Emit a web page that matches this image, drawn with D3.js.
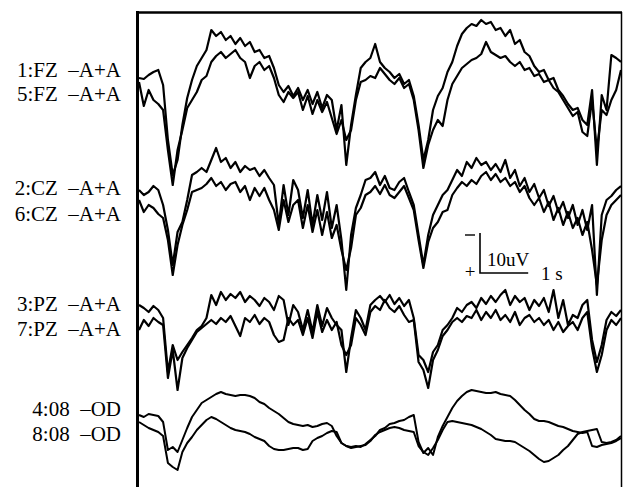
<!DOCTYPE html>
<html><head><meta charset="utf-8">
<script src="https://cdn.jsdelivr.net/npm/d3@7"></script>
<style>html,body{margin:0;padding:0;background:#fff;} svg{display:block;}</style>
</head><body>
<svg id="chart" width="624" height="487"></svg>
<script>
// ---- data (µV, negative = up, EEG convention), sampled every 0.1 s over 10 s ----
const labelsA = ["1:FZ  –A+A", "2:CZ  –A+A", "3:PZ  –A+A", "4:08  –OD"];
const labelsB = ["5:FZ  –A+A", "6:CZ  –A+A", "7:PZ  –A+A", "8:08  –OD"];

const fzA = [-0.5,-0.25,-1.25,-2,-2.5,1.25,15,23.75,20,11.25,
 4.5,0,-3.5,-5.5,-7.5,-12.5,-11,-12,-10,-11,
 -9,-10.5,-8.5,-9.5,-7,-7.5,-5.5,-6,-3,1.25,
 3,1.5,4,2,5,2.5,6,3,7,3.75,
 5,12.5,6.25,21.25,11.25,3.75,-3,-4.5,-5.5,-9,
 -4.5,-3,-2,-0.5,-1.5,1,0,4,11.25,20,
 15,7.5,4,2,-2,-4.5,-8.5,-11.5,-13,-14,
 -13.5,-15,-14,-14.5,-12.5,-13,-11,-12.5,-9,-10,
 -7,-6,-3.5,-2,-2.5,0,-0.5,2.5,4,6,
 7.5,7,10,11.25,2.5,21.25,3.75,7.5,-6.25,-5.5,
 -4.5];
const fzB = [0.5,6.5,2.5,5,6,7.5,17.5,26.25,17.5,12.5,
 7,5,3,0,-1,-4.5,-6,-7,-5.5,-6.5,
 -7.5,-5.5,-4.5,-0.5,-3.5,-4.5,-2.5,-3.5,-0.5,3.75,
 5.5,3,4.5,3,7.5,4,8.5,5,8,5.5,
 9.5,13.5,10,15,12.5,5,0.5,0,-1,-0.5,
 -3,-1.5,0,1,-0.5,2,1,5,12.5,22,
 16.25,12.5,10,11.5,5,1,-1,-3,-4,-5,
 -5.5,-6.5,-9.5,-7,-6.25,-5.5,-6,-4.5,-3.5,-4.5,
 -2.5,-3,-1,-1.5,0.5,0,2,3,5,7,
 9,8,13,14,5,17.5,7.5,8.75,5,2.5,
 -2.5];
const czA = [-2.5,-1.25,-2,-3.5,-2.5,1.25,7.5,16.25,8,5.5,
 0,-6.25,-7,-8,-7,-10,-13,-9.5,-10.5,-8,
 -9.5,-7,-8.5,-7.5,-8,-6,-7.5,-5.5,-3.75,6.25,
 -3.75,3.75,-5,-2.5,4.5,-2.5,6.25,-1.25,5,-2,
 7,1.25,10,22.5,8.75,2,-1.25,-5,-5.5,-7,
 -3.75,-6,-3,-2.5,-4.5,-5.5,-2,1.25,8.75,16.25,
 8.75,3.75,1.25,-1.25,-2.5,-5,-7.5,-6,-9.5,-8,
 -10.5,-8.75,-9.5,-7.5,-9,-7,-10,-5.5,-7.5,-3.5,
 -5.5,-2,-4,-0.5,-2.5,1.5,-1,3,0.5,4.5,
 1.25,6.25,2.5,7.5,1.25,23.75,3.75,0,-1,-2.5,
 -3.5];
const czB = [0,3,1.25,2,3.5,4.5,10,18.75,11.25,6.25,
 2.5,-2,-2.5,-3,-4,-5.5,-3.5,-4.5,-2.5,-4,
 -4.5,-2,-3.5,0,-3,-1,-3,0,2.5,7.5,
 0,5.5,1.25,0,7,1.25,8,2.5,8.75,3,
 9.5,6.25,12.5,17.5,12,3.75,2,-1.25,-2,-3.5,
 -1.5,-3.75,-1.25,-0.5,-2,-3.5,-0.5,2.5,10,17,
 10.5,7,5.5,3,2.5,-1.25,-3,-4.5,-3.5,-5,
 -4,-6,-7,-5,-6.5,-4.5,-5.5,-3.5,-4.5,-2,
 -3.5,-0.5,1.25,-0.5,3,0.5,5,2,6.25,3,
 7,4.5,8.75,5.5,12.5,21.25,10,3.75,1.25,0,
 -1.25];
const pzA = [-2.5,-1.75,-0.75,-2.25,-1.25,0.75,14.25,7.5,11.25,9.25,
 7.5,5.75,3.75,2.75,0.75,-5,-2.5,-5.75,-3.75,-5.25,
 -4.25,-5.75,-3.25,-4.75,-3.75,-2.25,-4.25,-3.25,-1.25,-4.75,
 -3.75,2.5,-2.5,-0.75,3.75,-1.25,4.25,-2.5,2.75,-1.75,
 0.75,2.5,3.75,14.25,5.75,-1.25,0.75,3.75,-2.5,-3.75,
 -4.75,-3.25,-5,-2.75,-4.25,-2.25,-3.75,0.75,10,11.25,
 14.25,9.25,7.5,3.75,2.5,0.75,-1.75,-0.75,-2.5,-3.25,
 -1.75,-4.25,-2.75,-4.75,-3.25,-5,-6.25,-2.5,-4.75,-3.25,
 -4.25,-1.25,-3.75,-2.25,-4.25,-0.75,-6.25,0.75,-3.75,2.5,
 0,0.75,-2.5,-3.75,6.25,11.75,7.5,1.25,-0.75,0.25,
 -1.25];
const pzB = [3.75,1.25,2.75,0.75,1.75,2.5,15.75,8.75,18.75,10.75,
 8.25,6.25,4.25,3.25,2.25,1.25,2.25,0.75,1.75,0.25,
 2.75,5.25,0.75,1.75,0,2.25,0.75,1.75,5,6.75,
 6.25,0.75,2.5,1.25,5,0.75,5.75,-0.75,4.25,1.25,
 3.75,1.75,7.5,10,7.5,0.75,2.5,5,-0.75,-2.25,
 -1.25,-3.75,-1.75,-0.75,-2.25,0,1.75,1.25,11.75,13.75,
 18.25,11.25,8.75,5.25,3.75,1.75,0.75,1.75,0.25,0.75,
 -1.25,1.25,-0.75,0.75,-1.25,1.25,0,1.75,-0.75,2.5,
 0.75,0,1.75,0.75,2.5,1.25,3.75,1.75,4.25,2.75,
 1.75,3.75,0.75,-0.75,8.25,14.25,10,3.75,1.25,2.5,
 0.75];
const eogA = [-3.75,-3.25,-4,-3.75,-3.5,-2,5,4.25,5.5,2.5,
 -0.5,-3.25,-5,-6.75,-7.5,-8.25,-9,-9.5,-9,-8.75,
 -8.5,-8.75,-8.75,-8.5,-8,-7,-6.5,-5.5,-4.75,-4,
 -3,-2,-1.5,-1.25,-1,-1.25,-0.75,-1,-1.5,-1.75,
 -1,1.5,3.25,4,4.25,4,4.25,3.5,2.5,1.5,
 0,-0.5,-1.5,-1.75,-2.25,-2.5,-3.25,-3.75,3,5.75,
 4.5,6.25,1.75,-1,-3.25,-5.5,-7.25,-8.5,-9.5,-10,
 -9.75,-9.5,-9.25,-9.25,-9.5,-9,-8.75,-8.5,-7.5,-6.25,
 -5,-4,-2.75,-2.25,-2.25,-2,-1.5,-1,-0.75,-0.25,
 0.25,0.5,0.75,0.5,4,4.25,3.75,3.5,3.25,2.75,
 2];
const eogB = [-2,-1.25,-0.5,0,0.5,1.5,8.25,9.25,10,5.5,
 3.25,1.75,0,-1.25,-2.5,-3.25,-2.75,-2,-1.25,-0.5,
 0,0.25,0.5,1,1.75,2.25,2.75,4,4.75,5,
 5,4.75,4.5,4.5,5,4.75,2.75,2,1.5,0.75,
 0.25,0.5,3.25,4,4.5,4.25,4,3.75,2.75,1.25,
 0.5,0,-0.5,-0.75,-0.5,0,0.25,0.5,4,5.5,
 6.25,4.5,2.5,0,-2,-2.25,-2,-1.75,-1.5,-1.25,
 -0.75,-0.25,0.5,1.25,2.25,2.5,2.75,2.75,3,3.75,
 4.5,5.25,6.25,7.25,8,7.75,7,6.25,5,4,
 2.5,1,0.5,0.25,0,-0.25,3,3.25,3,2.5,
 1.5];

const durationS = 10;
const scaleAmpUV = 10, scaleTimeS = 1;
const scaleLabels = ["10uV", "1 s"];

// ---- layout ----
const svg = d3.select("#chart");
const x = d3.scaleLinear().domain([0, durationS]).range([139, 621]);
const baselines = [80, 200, 315, 430];
const pxPerUV = 4;
const yScales = baselines.map(b => d3.scaleLinear().domain([-10, 10]).range([b - 10 * pxPerUV, b + 10 * pxPerUV]));

const seriesA = [fzA, czA, pzA, eogA];
const seriesB = [fzB, czB, pzB, eogB];
const strokeW = [2.2, 2.2, 2.2, 2.0];

svg.append("defs").append("clipPath").attr("id", "clip")
  .append("rect").attr("x", 138).attr("y", 13).attr("width", 483).attr("height", 474);

const g = svg.append("g").attr("clip-path", "url(#clip)");
[seriesA, seriesB].forEach(set => {
  set.forEach((vals, ci) => {
    const n = vals.length;
    const line = d3.line()
      .x((d, i) => x(i * durationS / (n - 1)))
      .y(d => yScales[ci](d));
    g.append("path").datum(vals)
      .attr("d", line)
      .attr("fill", "none")
      .attr("stroke", "#000")
      .attr("stroke-width", strokeW[ci])
      .attr("stroke-linejoin", "round");
  });
});

// frame
svg.append("line").attr("x1", 137.5).attr("x2", 137.5).attr("y1", 11).attr("y2", 487)
  .attr("stroke", "#000").attr("stroke-width", 3);
svg.append("line").attr("x1", 136).attr("x2", 622).attr("y1", 12.5).attr("y2", 12.5)
  .attr("stroke", "#000").attr("stroke-width", 2.5);
svg.append("line").attr("x1", 621.5).attr("x2", 621.5).attr("y1", 12).attr("y2", 487)
  .attr("stroke", "#000").attr("stroke-width", 1.5);

// channel labels
const font = "'Liberation Serif','Times New Roman',serif";
const labelOffsetsA = [-3, -5, -4, -14];
const labelOffsetsB = [21, 21, 21, 11];
labelsA.forEach((t, i) => {
  svg.append("text").attr("x", 121).attr("y", baselines[i] + labelOffsetsA[i])
    .attr("text-anchor", "end").style("white-space", "pre")
    .attr("font-family", font).attr("font-size", 21).text(t);
  svg.append("text").attr("x", 121).attr("y", baselines[i] + labelOffsetsB[i])
    .attr("text-anchor", "end").style("white-space", "pre")
    .attr("font-family", font).attr("font-size", 21).text(labelsB[i]);
});

// scale bar
const sbX = 480, sbY = 273;
const ampLen = scaleAmpUV * pxPerUV;
const timeLen = x(scaleTimeS) - x(0);
svg.append("path")
  .attr("d", `M${sbX},${sbY - ampLen}V${sbY}H${sbX + timeLen}`)
  .attr("fill", "none").attr("stroke", "#000").attr("stroke-width", 1.6);
svg.append("line").attr("x1", 465).attr("x2", 475).attr("y1", 235).attr("y2", 235)
  .attr("stroke", "#000").attr("stroke-width", 1.4);
svg.append("text").attr("x", 470).attr("y", 278).attr("text-anchor", "middle")
  .attr("font-family", font).attr("font-size", 19).text("+");
svg.append("text").attr("x", 487).attr("y", 266)
  .attr("font-family", font).attr("font-size", 19).text(scaleLabels[0]);
svg.append("text").attr("x", 541).attr("y", 280)
  .attr("font-family", font).attr("font-size", 19).text(scaleLabels[1]);
</script>
</body></html>
